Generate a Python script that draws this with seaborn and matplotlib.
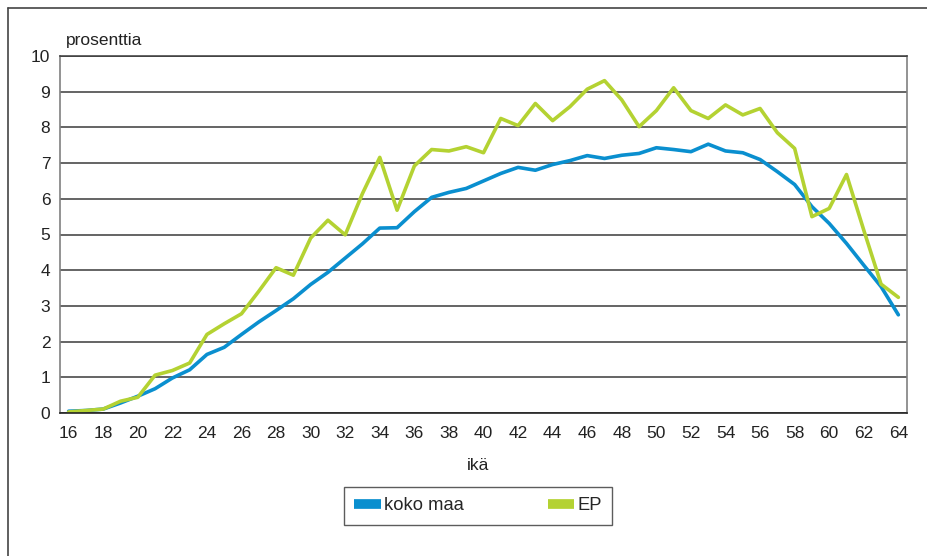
import numpy as np
import pandas as pd
import matplotlib
matplotlib.use("Agg")
import matplotlib.pyplot as plt
from matplotlib.lines import Line2D
from matplotlib.ticker import MultipleLocator, FixedLocator
import seaborn as sns

# ages 16..64
AGES = list(range(16, 65))

KOKO_MAA = [
    0.05, 0.07, 0.11, 0.28, 0.47, 0.68, 0.98, 1.21, 1.64, 1.84,
    2.20, 2.55, 2.87, 3.20, 3.60, 3.94, 4.34, 4.74, 5.18, 5.19,
    5.64, 6.04, 6.18, 6.29, 6.50, 6.71, 6.88, 6.80, 6.96, 7.07,
    7.21, 7.13, 7.22, 7.27, 7.43, 7.38, 7.32, 7.53, 7.34, 7.29,
    7.10, 6.76, 6.40, 5.78, 5.31, 4.75, 4.14, 3.54, 2.75,
]

EP = [
    0.03, 0.07, 0.11, 0.33, 0.44, 1.06, 1.19, 1.40, 2.20, 2.50,
    2.78, 3.41, 4.07, 3.86, 4.90, 5.40, 4.99, 6.15, 7.16, 5.68,
    6.92, 7.38, 7.34, 7.46, 7.29, 8.25, 8.05, 8.67, 8.19, 8.58,
    9.07, 9.31, 8.77, 8.02, 8.47, 9.11, 8.47, 8.25, 8.63, 8.35,
    8.53, 7.85, 7.41, 5.50, 5.73, 6.68, 5.12, 3.61, 3.24,
]

SERIES = ["koko maa", "EP"]
COLORS = ["#0a8fcf", "#b4d232"]

df = pd.DataFrame({"ikä": AGES, "koko maa": KOKO_MAA, "EP": EP})
long_df = df.melt(id_vars="ikä", var_name="sarja", value_name="prosenttia")

sns.set_style("white")
plt.rcParams["font.family"] = ["Liberation Sans", "DejaVu Sans"]

fig = plt.figure(figsize=(9.27, 5.56), dpi=100)
ax = fig.add_axes([60 / 927, 1 - 413 / 556, 847 / 927, 357 / 556])

sns.lineplot(
    data=long_df, x="ikä", y="prosenttia", hue="sarja",
    hue_order=SERIES, palette=COLORS, linewidth=2.6, ax=ax, legend=False,
)

ax.set_xlim(15.5, 64.5)
ax.set_ylim(0, 10)
ax.yaxis.set_major_locator(MultipleLocator(1))
ax.grid(axis="y", color="#3a3a3a", linewidth=1.1)
ax.set_axisbelow(True)

# labels on even ages, tick marks at category boundaries
ax.xaxis.set_major_locator(FixedLocator(AGES[::2]))
ax.xaxis.set_minor_locator(FixedLocator(np.arange(15.5, 65, 1)))
ax.tick_params(axis="x", which="major", length=0, labelsize=12.5, pad=9, colors="#222222")
ax.tick_params(axis="x", which="minor", length=4, width=1, direction="out", color="#222222")
ax.tick_params(axis="y", which="major", length=4, width=1, direction="out",
               labelsize=12.5, pad=3, colors="#222222")

for side in ["left", "right"]:
    ax.spines[side].set_color("#808080")
    ax.spines[side].set_linewidth(1.2)
ax.spines["top"].set_color("#3a3a3a")
ax.spines["top"].set_linewidth(1.1)
ax.spines["bottom"].set_color("#222222")
ax.spines["bottom"].set_linewidth(1.2)

ax.set_xlabel("")
ax.set_ylabel("")
fig.text(66 / 927, 1 - 40 / 556, "prosenttia", fontsize=12.5, va="center", ha="left", color="#222222")
fig.text(478 / 927, 1 - 466 / 556, "ikä", fontsize=12.5, va="center", ha="center", color="#222222")

handles = [Line2D([0], [0], color=c, linewidth=7, solid_capstyle="butt") for c in COLORS]
leg = fig.legend(
    handles, SERIES, loc="center", bbox_to_anchor=(478 / 927, 1 - 506 / 556),
    ncol=2, frameon=True, fancybox=False, fontsize=13.2, handlelength=1.45,
    handletextpad=0.15, columnspacing=4.6, borderpad=0.55,
)
leg.get_frame().set_edgecolor("#333333")
leg.get_frame().set_linewidth(1.0)

# outer frame (top and left edges visible in the crop)
fig.add_artist(Line2D([8 / 927, 8 / 927], [0, 1 - 8 / 556], color="#444444", linewidth=1.2,
                      transform=fig.transFigure))
fig.add_artist(Line2D([8 / 927, 1], [1 - 8 / 556, 1 - 8 / 556], color="#444444", linewidth=1.2,
                      transform=fig.transFigure))

fig.savefig("out.png", dpi=100)
